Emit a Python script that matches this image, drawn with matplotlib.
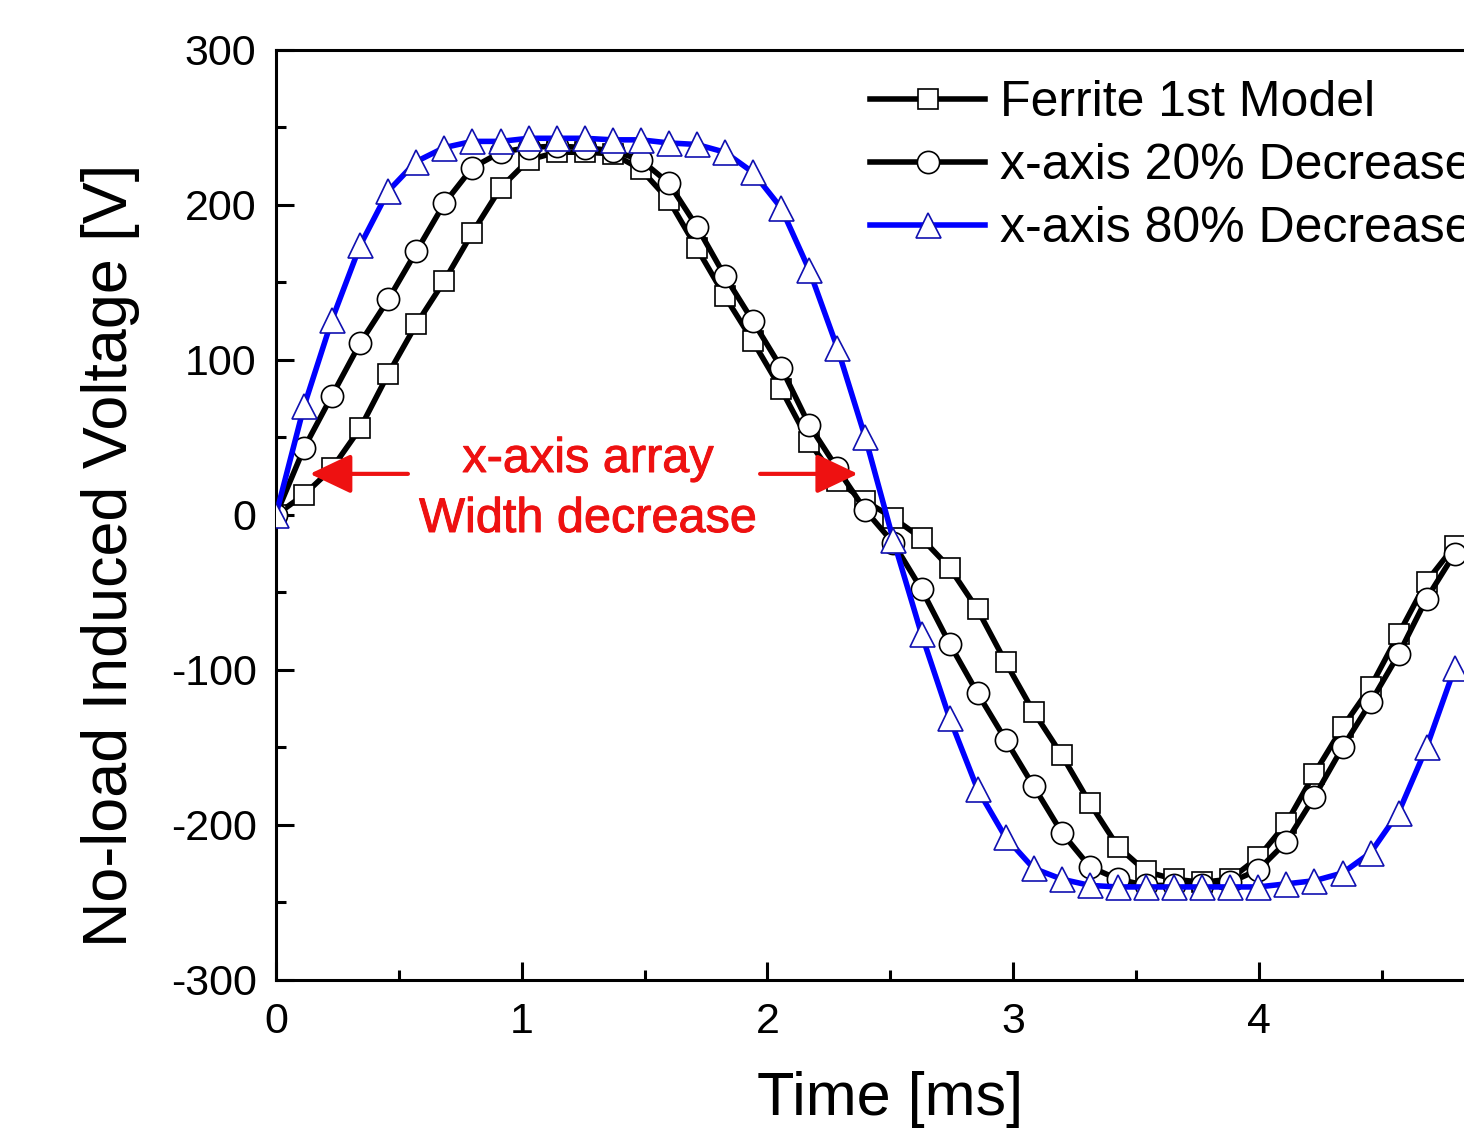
import matplotlib
matplotlib.use("Agg")
import matplotlib.pyplot as plt
import matplotlib.patheffects as pe
from matplotlib.ticker import MultipleLocator

plt.rcParams['font.family'] = ['Liberation Sans', 'DejaVu Sans']
plt.rcParams['axes.unicode_minus'] = False

# ---- data ----
time_ms = [0.000, 0.114, 0.228, 0.343, 0.457, 0.571, 0.685, 0.799, 0.914, 1.028,
           1.142, 1.256, 1.370, 1.485, 1.599, 1.713, 1.827, 1.941, 2.056, 2.170,
           2.284, 2.398, 2.512, 2.627, 2.741, 2.855, 2.969, 3.083, 3.198, 3.312,
           3.426, 3.540, 3.654, 3.769, 3.883, 3.997, 4.111, 4.225, 4.340, 4.454,
           4.568, 4.682, 4.796]

ferrite_1st = [0, 13, 30, 56, 91, 123, 151, 182, 211, 229,
               234, 234, 233, 223, 203, 172, 141, 112, 81, 47,
               22, 9, -2, -15, -34, -61, -95, -127, -155, -186,
               -214, -230, -235, -237, -235, -221, -199, -167, -137, -111,
               -77, -43, -20]

x_axis_20 = [0, 43, 77, 111, 139, 170, 201, 224, 234, 237,
             238, 237, 235, 229, 214, 186, 154, 125, 95, 58,
             30, 3, -18, -48, -83, -115, -145, -175, -205, -227,
             -235, -239, -239, -239, -237, -229, -211, -182, -150, -121,
             -90, -54, -25]

x_axis_80 = [0, 70, 126, 174, 209, 228, 237, 241, 241, 243,
             243, 243, 242, 242, 240, 239, 234, 221, 198, 158,
             108, 50, -16, -77, -131, -177, -208, -228, -235, -239,
             -240, -240, -240, -240, -240, -240, -238, -236, -231, -218,
             -192, -150, -99]

labels = ["Ferrite 1st Model", "x-axis 20% Decrease", "x-axis 80% Decrease"]
x_ticks = [0, 1, 2, 3, 4, 5]
x_tick_labels = ["0", "1", "2", "3", "4", ""]
y_ticks = [-300, -200, -100, 0, 100, 200, 300]

# ---- figure ----
fig = plt.figure(figsize=(14.64, 11.4), dpi=100)
ax = fig.add_axes([0.1885, 0.1404, 0.8393, 0.8158])

lw = 4.0
ax.plot(time_ms, ferrite_1st, color='black', lw=lw, marker='s', ms=14,
        mfc='white', mec='black', mew=1.2, label=labels[0], zorder=3)
ax.plot(time_ms, x_axis_20, color='black', lw=lw, marker='o', ms=16,
        mfc='white', mec='black', mew=1.2, label=labels[1], zorder=4)
ax.plot(time_ms, x_axis_80, color='#0000ff', lw=lw, marker='^', ms=18,
        mfc='white', mec='#1010b0', mew=1.2, label=labels[2], zorder=5)

ax.set_xlim(0, 5)
ax.set_ylim(-300, 300)
ax.set_xticks(x_ticks)
ax.set_xticklabels(x_tick_labels)
ax.set_yticks(y_ticks)
ax.xaxis.set_minor_locator(MultipleLocator(0.5))
ax.yaxis.set_minor_locator(MultipleLocator(50))

for s in ax.spines.values():
    s.set_linewidth(2.2)
ax.tick_params(which='both', direction='in', top=False, right=False, width=2.2)
ax.tick_params(which='major', length=13)
ax.tick_params(which='minor', length=7)
ax.tick_params(axis='x', which='major', labelsize=31, pad=16)
ax.tick_params(axis='y', which='major', labelsize=31, pad=14)

ax.set_xlabel("Time [ms]", fontsize=44, va='center')
ax.xaxis.set_label_coords(0.5, -0.129)
ax.set_ylabel("No-load Induced Voltage [V]", fontsize=45.3, va='center')
ax.yaxis.set_label_coords(-0.135, 0.457)

leg = ax.legend(loc='upper left', bbox_to_anchor=(870 / 1464, 1 - 80 / 1140),
                bbox_transform=fig.transFigure, frameon=False, fontsize=36,
                handlelength=2.3, handletextpad=0.3, labelspacing=0.34,
                borderpad=0, borderaxespad=0, numpoints=1)

# ---- annotation ----
red = '#ee1111'
thick = [pe.withStroke(linewidth=0.7, foreground=red)]
ax.text(1.27, 27.7, "x-axis array", color=red, fontsize=35, ha='center',
        va='baseline', path_effects=thick)
ax.text(1.27, -11, "Width decrease", color=red, fontsize=35, ha='center',
        va='baseline', path_effects=thick)
arrow_style = dict(arrowstyle='-|>,head_length=0.8,head_width=0.38', color=red,
                   lw=3, mutation_scale=32, shrinkA=0, shrinkB=0)
ax.annotate("", xy=(0.138, 26.5), xytext=(0.537, 26.5), arrowprops=arrow_style, zorder=6)
ax.annotate("", xy=(2.368, 26.5), xytext=(1.97, 26.5), arrowprops=arrow_style, zorder=6)

fig.savefig("out.png", dpi=100)
